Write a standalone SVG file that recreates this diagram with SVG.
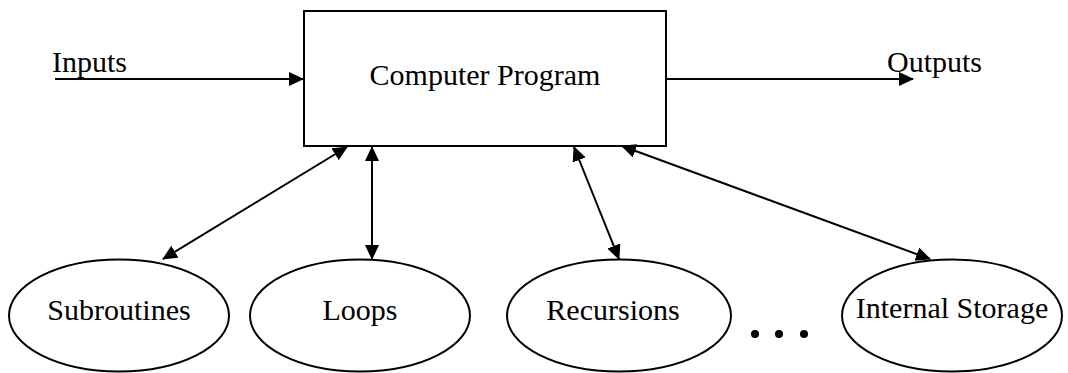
<svg xmlns="http://www.w3.org/2000/svg" width="1068" height="373" viewBox="0 0 1068 373">
<defs>
<style>
.s{fill:none;stroke:#000;stroke-width:2}
.t{font-family:"Liberation Serif","Times New Roman",serif;font-size:30px;fill:#000}
.c{stroke:#000;stroke-width:2;fill:none}
</style>
<marker id="ah" viewBox="0 0 15 14" refX="14" refY="7" markerWidth="15" markerHeight="14" markerUnits="userSpaceOnUse" orient="auto-start-reverse">
<path d="M0,0 L15,7 L0,14 Z" fill="#000"/>
</marker>
</defs>
<rect width="1068" height="373" fill="#fff"/>
<g id="program">
<rect class="s" x="304" y="11" width="362" height="135"/>
<text class="t" x="485" y="85" text-anchor="middle">Computer Program</text>
</g>
<g id="inputs"><text class="t" x="52" y="72">Inputs</text></g>
<g id="outputs"><text class="t" x="887" y="72">Outputs</text></g>
<g id="subroutines">
<ellipse class="s" cx="119" cy="315.5" rx="110" ry="56"/>
<text class="t" x="119" y="320" text-anchor="middle">Subroutines</text>
</g>
<g id="loops">
<ellipse class="s" cx="360" cy="315.5" rx="110" ry="56"/>
<text class="t" x="360" y="320" text-anchor="middle">Loops</text>
</g>
<g id="recursions">
<ellipse class="s" cx="619" cy="315.5" rx="112" ry="56"/>
<text class="t" x="613" y="320" text-anchor="middle">Recursions</text>
</g>
<g id="storage">
<ellipse class="s" cx="952" cy="315.5" rx="110" ry="56"/>
<text class="t" x="952" y="318" text-anchor="middle">Internal Storage</text>
</g>
<g id="ellipsis">
<circle cx="755" cy="334" r="4"/>
<circle cx="779" cy="334" r="4"/>
<circle cx="804" cy="334" r="4"/>
</g>
<g id="connectors">
<line class="c" x1="55" y1="79" x2="303" y2="79" marker-end="url(#ah)"/>
<line class="c" x1="666" y1="79" x2="913" y2="79" marker-end="url(#ah)"/>
<line class="c" x1="163" y1="259" x2="347" y2="147" marker-start="url(#ah)" marker-end="url(#ah)"/>
<line class="c" x1="372" y1="259" x2="372" y2="147" marker-start="url(#ah)" marker-end="url(#ah)"/>
<line class="c" x1="619" y1="259" x2="574" y2="147" marker-start="url(#ah)" marker-end="url(#ah)"/>
<line class="c" x1="930" y1="259" x2="622" y2="146" marker-start="url(#ah)" marker-end="url(#ah)"/>
</g>
</svg>
